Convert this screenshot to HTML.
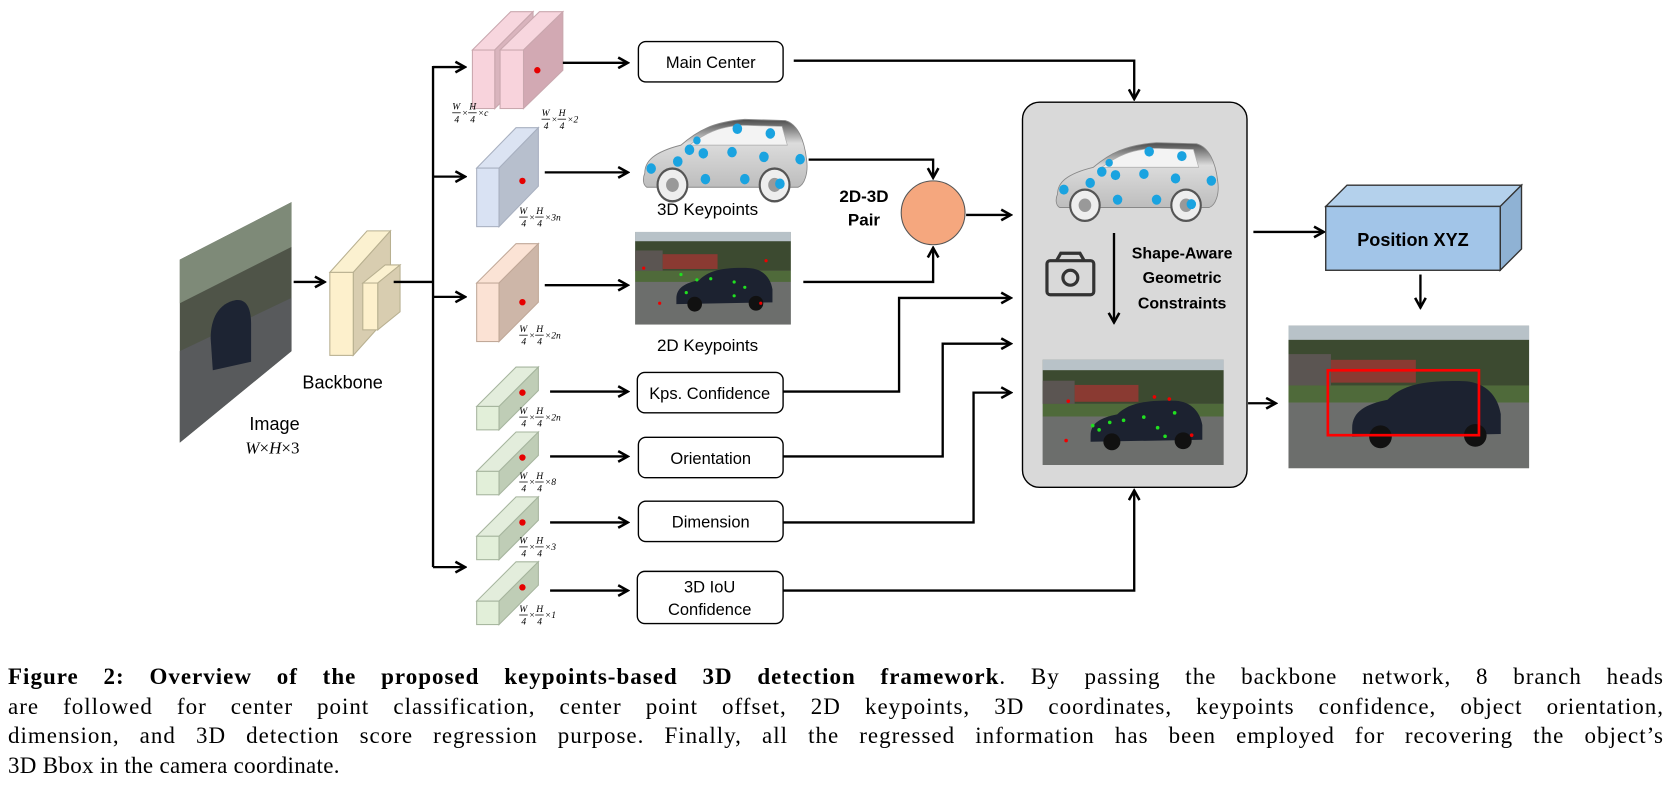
<!DOCTYPE html>
<html><head><meta charset="utf-8"><style>
html,body{margin:0;padding:0;background:#fff}
body{position:relative;width:1671px;height:806px;overflow:hidden}
svg{display:block;position:absolute;left:0;top:0}
.t{font-family:"Liberation Sans","DejaVu Sans",sans-serif}
.f{font-family:"Liberation Serif",serif;font-style:italic;font-size:9px}
.cap{position:absolute;left:8px;top:662px;width:1656px;font-family:"Liberation Serif",serif;font-size:23px;line-height:29.5px;color:#000}
.cap div{text-align:justify;text-align-last:justify;white-space:nowrap;letter-spacing:1px}
.cap div.l{text-align-last:left;letter-spacing:0.3px}
</style></head><body>
<svg width="1671" height="806" viewBox="0 0 1570.5 757.5" xmlns="http://www.w3.org/2000/svg">
<defs>
<marker id="ah" markerWidth="12" markerHeight="12" refX="10" refY="6" orient="auto" markerUnits="userSpaceOnUse">
<path d="M1,1 L10,6 L1,11" fill="none" stroke="#000" stroke-width="2.4"/>
</marker>
<linearGradient id="carg" x1="0" y1="0" x2="0" y2="1">
<stop offset="0" stop-color="#4a4a4a"/><stop offset="0.35" stop-color="#dcdcdc"/><stop offset="1" stop-color="#bdbdbd"/>
</linearGradient>
<g id="car">
<path d="M6,48 C6,38 14,30 40,24 C55,12 70,4 100,2 L138,3 C150,6 156,20 158,36 C160,48 156,58 150,60 L8,60 C4,58 4,52 6,48 Z" fill="url(#carg)" stroke="#888" stroke-width="0.8"/>
<path d="M48,24 C62,14 76,8 98,7 L135,8 L140,24 Z" fill="#f3f3f3" stroke="#aaa" stroke-width="0.6"/>
<circle cx="32" cy="58" r="14" fill="#eee" stroke="#555" stroke-width="2"/><circle cx="32" cy="58" r="6" fill="#999"/>
<circle cx="128" cy="58" r="14" fill="#eee" stroke="#555" stroke-width="2"/><circle cx="128" cy="58" r="6" fill="#999"/>
<g fill="#1aa3e0"><circle cx="12" cy="44" r="4.5"/><circle cx="37" cy="38" r="4.5"/><circle cx="48" cy="28" r="4.5"/><circle cx="61" cy="31" r="4.5"/><circle cx="55" cy="20" r="3.5"/><circle cx="93" cy="10" r="4.5"/><circle cx="88" cy="30" r="4.5"/><circle cx="124" cy="14" r="4.5"/><circle cx="118" cy="34" r="4.5"/><circle cx="152" cy="36" r="4.5"/><circle cx="63" cy="53" r="4.5"/><circle cx="100" cy="53" r="4.5"/><circle cx="133" cy="57" r="4.5"/></g>
</g>
<g id="photo">
<rect x="0" y="0" width="170" height="100" fill="#7b7f78"/>
<rect x="0" y="0" width="170" height="25" fill="#b8c2c8"/>
<rect x="0" y="10" width="170" height="32" fill="#3c4a30"/>
<rect x="0" y="20" width="30" height="22" fill="#5b5552"/>
<rect x="30" y="24" width="60" height="16" fill="#8a3a32"/>
<rect x="0" y="42" width="170" height="12" fill="#4f6a3a"/>
<rect x="0" y="54" width="170" height="46" fill="#6c6e6c"/>
<path d="M45,72 C45,60 55,55 70,52 C80,42 95,38 125,39 C140,40 148,50 150,62 L150,76 L45,78 Z" fill="#1c2230"/>
<circle cx="65" cy="78" r="8" fill="#111"/><circle cx="132" cy="77" r="8" fill="#111"/>
</g>
</defs>

<polygon points="169,244 274,190 274,330 169,416" fill="#4f5448"/>
<polygon points="169,244 274,190 274,232 169,285" fill="#7e8a78"/>
<polygon points="169,330 274,280 274,330 169,416" fill="#585a5c"/>
<path d="M198,318 C198,300 205,285 222,282 C232,281 236,290 236,305 L236,340 L200,348 Z" fill="#1d2433"/>
<text class="t" x="258" y="404" font-size="17" text-anchor="middle">Image</text>
<text x="256" y="426" font-size="16" text-anchor="middle" font-family="Liberation Serif,serif" font-style="italic">W<tspan font-style="normal">×</tspan>H<tspan font-style="normal">×3</tspan></text>
<line x1="276" y1="265" x2="305" y2="265" stroke="#000" stroke-width="2.2" marker-end="url(#ah)"/>

<g stroke="#b8b090" stroke-width="1">
<polygon points="310,256 332,256 367,217 345,217" fill="#fbf1d0"/>
<polygon points="332,256 367,217 367,295 332,334" fill="#d8cdb0"/>
<rect x="310" y="256" width="22" height="78" fill="#fdf0cc"/>
<polygon points="341,266 355,266 376,249 362,249" fill="#fbf1d0"/>
<polygon points="355,266 376,249 376,293 355,310" fill="#d8cdb0"/>
<rect x="341" y="266" width="14" height="44" fill="#fdf0cc"/>
</g>
<text class="t" x="322" y="365" font-size="17" text-anchor="middle">Backbone</text>

<g stroke="#000" stroke-width="2.2" fill="none">
<polyline points="370,265 407,265"/>
<line x1="407" y1="62" x2="407" y2="533"/>
<line x1="407" y1="63" x2="437" y2="63" marker-end="url(#ah)"/>
<line x1="407" y1="166" x2="437" y2="166" marker-end="url(#ah)"/>
<line x1="407" y1="279" x2="437" y2="279" marker-end="url(#ah)"/>
<line x1="407" y1="533" x2="437" y2="533" marker-end="url(#ah)"/>
</g>

<g stroke="#c9a7ae" stroke-width="1">
<polygon points="444,47 465,47 501,11 480,11" fill="#f7d6de"/>
<polygon points="465,47 501,11 501,66 465,102" fill="#d9b4bd"/>
<rect x="444" y="47" width="21" height="55" fill="#f8d3dc"/>
<polygon points="470,47 492,47 529,11 507,11" fill="#f7d6de"/>
<polygon points="492,47 529,11 529,66 492,102" fill="#d2a9b3"/>
<rect x="470" y="47" width="22" height="55" fill="#f8d3dc"/>
</g>
<circle cx="505" cy="66" r="3" fill="#e60000"/>
<g stroke="#a8b0c0" stroke-width="1">
<polygon points="448,158 469,158 506,120 485,120" fill="#dbe3f2"/>
<polygon points="469,158 506,120 506,175 469,213" fill="#b7bfcd"/>
<rect x="448" y="158" width="21" height="55" fill="#d9e2f3"/>
</g>
<circle cx="491" cy="170" r="3" fill="#e60000"/>
<g stroke="#c0a898" stroke-width="1">
<polygon points="448,266 469,266 506,229 485,229" fill="#fbe3d5"/>
<polygon points="469,266 506,229 506,284 469,321" fill="#cdb6a8"/>
<rect x="448" y="266" width="21" height="55" fill="#fbe2d4"/>
</g>
<circle cx="491" cy="284" r="3" fill="#e60000"/>
<g stroke="#a6b59e" stroke-width="1">
<polygon points="448,382 469,382 506,345 485,345" fill="#e3eddc"/><polygon points="469,382 506,345 506,367 469,404" fill="#bfcdb6"/><rect x="448" y="382" width="21" height="22" fill="#e2efd9"/>
<polygon points="448,443 469,443 506,406 485,406" fill="#e3eddc"/><polygon points="469,443 506,406 506,428 469,465" fill="#bfcdb6"/><rect x="448" y="443" width="21" height="22" fill="#e2efd9"/>
<polygon points="448,504 469,504 506,467 485,467" fill="#e3eddc"/><polygon points="469,504 506,467 506,489 469,526" fill="#bfcdb6"/><rect x="448" y="504" width="21" height="22" fill="#e2efd9"/>
<polygon points="448,565 469,565 506,528 485,528" fill="#e3eddc"/><polygon points="469,565 506,528 506,550 469,587" fill="#bfcdb6"/><rect x="448" y="565" width="21" height="22" fill="#e2efd9"/>
</g>
<g fill="#e60000"><circle cx="491" cy="369" r="3"/><circle cx="491" cy="430" r="3"/><circle cx="491" cy="491" r="3"/><circle cx="491" cy="552" r="3"/></g>

<g class="f" stroke-width="0.7">
<g transform="translate(425,103)"><text x="0" y="0">W</text><line x1="0" y1="3" x2="8" y2="3" stroke="#000"/><text x="2" y="12">4</text><text x="9" y="6">×</text><text x="16" y="0">H</text><line x1="15" y1="3" x2="23" y2="3" stroke="#000"/><text x="17" y="12">4</text><text x="24" y="6">×c</text></g>
<g transform="translate(509,109)"><text x="0" y="0">W</text><line x1="0" y1="3" x2="8" y2="3" stroke="#000"/><text x="2" y="12">4</text><text x="9" y="6">×</text><text x="16" y="0">H</text><line x1="15" y1="3" x2="23" y2="3" stroke="#000"/><text x="17" y="12">4</text><text x="24" y="6">×2</text></g>
<g transform="translate(488,201)"><text x="0" y="0">W</text><line x1="0" y1="3" x2="8" y2="3" stroke="#000"/><text x="2" y="12">4</text><text x="9" y="6">×</text><text x="16" y="0">H</text><line x1="15" y1="3" x2="23" y2="3" stroke="#000"/><text x="17" y="12">4</text><text x="24" y="6">×3n</text></g>
<g transform="translate(488,312)"><text x="0" y="0">W</text><line x1="0" y1="3" x2="8" y2="3" stroke="#000"/><text x="2" y="12">4</text><text x="9" y="6">×</text><text x="16" y="0">H</text><line x1="15" y1="3" x2="23" y2="3" stroke="#000"/><text x="17" y="12">4</text><text x="24" y="6">×2n</text></g>
<g transform="translate(488,389)"><text x="0" y="0">W</text><line x1="0" y1="3" x2="8" y2="3" stroke="#000"/><text x="2" y="12">4</text><text x="9" y="6">×</text><text x="16" y="0">H</text><line x1="15" y1="3" x2="23" y2="3" stroke="#000"/><text x="17" y="12">4</text><text x="24" y="6">×2n</text></g>
<g transform="translate(488,450)"><text x="0" y="0">W</text><line x1="0" y1="3" x2="8" y2="3" stroke="#000"/><text x="2" y="12">4</text><text x="9" y="6">×</text><text x="16" y="0">H</text><line x1="15" y1="3" x2="23" y2="3" stroke="#000"/><text x="17" y="12">4</text><text x="24" y="6">×8</text></g>
<g transform="translate(488,511)"><text x="0" y="0">W</text><line x1="0" y1="3" x2="8" y2="3" stroke="#000"/><text x="2" y="12">4</text><text x="9" y="6">×</text><text x="16" y="0">H</text><line x1="15" y1="3" x2="23" y2="3" stroke="#000"/><text x="17" y="12">4</text><text x="24" y="6">×3</text></g>
<g transform="translate(488,575)"><text x="0" y="0">W</text><line x1="0" y1="3" x2="8" y2="3" stroke="#000"/><text x="2" y="12">4</text><text x="9" y="6">×</text><text x="16" y="0">H</text><line x1="15" y1="3" x2="23" y2="3" stroke="#000"/><text x="17" y="12">4</text><text x="24" y="6">×1</text></g>
</g>

<g stroke="#000" stroke-width="2.2" fill="none">
<line x1="529" y1="59" x2="590" y2="59" marker-end="url(#ah)"/>
<line x1="512" y1="162" x2="590" y2="162" marker-end="url(#ah)"/>
<line x1="512" y1="268" x2="590" y2="268" marker-end="url(#ah)"/>
<line x1="517" y1="368" x2="590" y2="368" marker-end="url(#ah)"/>
<line x1="517" y1="429" x2="590" y2="429" marker-end="url(#ah)"/>
<line x1="517" y1="491" x2="590" y2="491" marker-end="url(#ah)"/>
<line x1="517" y1="555" x2="590" y2="555" marker-end="url(#ah)"/>
</g>

<g fill="#fff" stroke="#000" stroke-width="1.3">
<rect x="600" y="39" width="136" height="38" rx="7"/>
<rect x="599" y="350" width="137" height="38" rx="7"/>
<rect x="600" y="411" width="136" height="38" rx="7"/>
<rect x="600" y="471" width="136" height="38" rx="7"/>
<rect x="599" y="537" width="137" height="49" rx="7"/>
</g>
<g class="t" font-size="15.5" text-anchor="middle">
<text x="668" y="64">Main Center</text>
<text x="667" y="375">Kps. Confidence</text>
<text x="668" y="436">Orientation</text>
<text x="668" y="496">Dimension</text>
<text x="667" y="557">3D IoU</text>
<text x="667" y="578">Confidence</text>
</g>

<use href="#car" transform="translate(600,110) scale(1,1.1)"/>
<text class="t" x="665" y="202" font-size="16" text-anchor="middle">3D Keypoints</text>
<use href="#photo" transform="translate(597,218) scale(0.86,0.87)"/>
<g fill="#20e020"><circle cx="640" cy="258" r="1.5"/><circle cx="655" cy="263" r="1.5"/><circle cx="668" cy="262" r="1.5"/><circle cx="690" cy="265" r="1.5"/><circle cx="645" cy="275" r="1.5"/><circle cx="690" cy="278" r="1.5"/><circle cx="700" cy="270" r="1.5"/></g>
<g fill="#e00"><circle cx="605" cy="252" r="1.5"/><circle cx="720" cy="245" r="1.5"/><circle cx="620" cy="285" r="1.5"/><circle cx="715" cy="285" r="1.5"/></g>
<text class="t" x="665" y="330" font-size="16" text-anchor="middle">2D Keypoints</text>

<g stroke="#000" stroke-width="2.2" fill="none">
<polyline points="746,57 1066,57 1066,93" marker-end="url(#ah)"/>
<polyline points="760,150 877,150 877,167" marker-end="url(#ah)"/>
<polyline points="755,265 877,265 877,233" marker-end="url(#ah)"/>
<line x1="908" y1="202" x2="950" y2="202" marker-end="url(#ah)"/>
<polyline points="736,368 845,368 845,280 950,280" marker-end="url(#ah)"/>
<polyline points="736,429 886,429 886,323 950,323" marker-end="url(#ah)"/>
<polyline points="736,491 915,491 915,369 950,369" marker-end="url(#ah)"/>
<polyline points="736,555 1066,555 1066,461" marker-end="url(#ah)"/>
</g>
<circle cx="877" cy="200" r="30" fill="#f5a77e" stroke="#555" stroke-width="1"/>
<text class="t" x="812" y="190" font-size="16" font-weight="bold" text-anchor="middle">2D-3D</text>
<text class="t" x="812" y="212" font-size="16" font-weight="bold" text-anchor="middle">Pair</text>

<rect x="961" y="96" width="211" height="362" rx="16" fill="#d9d9d9" stroke="#000" stroke-width="1.3"/>
<use href="#car" transform="translate(988,132) scale(0.99,1.05)"/>
<rect x="984" y="245" width="44" height="32" rx="3" fill="none" stroke="#333" stroke-width="3"/>
<path d="M993,245 L997,238 L1015,238 L1019,245" fill="none" stroke="#333" stroke-width="3"/>
<circle cx="1006" cy="261" r="7" fill="none" stroke="#333" stroke-width="3"/>
<line x1="1047" y1="219" x2="1047" y2="303" stroke="#000" stroke-width="2.2" marker-end="url(#ah)"/>
<g class="t" font-size="15" font-weight="bold" text-anchor="middle">
<text x="1111" y="243">Shape-Aware</text>
<text x="1111" y="266">Geometric</text>
<text x="1111" y="290">Constraints</text>
</g>
<use href="#photo" transform="translate(980,338) scale(1.0,0.99)"/>
<g fill="#20e020"><circle cx="1027" cy="400" r="1.7"/><circle cx="1043" cy="397" r="1.7"/><circle cx="1056" cy="395" r="1.7"/><circle cx="1075" cy="392" r="1.7"/><circle cx="1033" cy="404" r="1.7"/><circle cx="1095" cy="410" r="1.7"/><circle cx="1088" cy="402" r="1.7"/><circle cx="1104" cy="388" r="1.7"/></g>
<g fill="#e00"><circle cx="1004" cy="377" r="1.7"/><circle cx="1085" cy="373" r="1.7"/><circle cx="1099" cy="375" r="1.7"/><circle cx="1002" cy="414" r="1.7"/><circle cx="1120" cy="409" r="1.7"/></g>

<line x1="1178" y1="218" x2="1244" y2="218" stroke="#000" stroke-width="2.2" marker-end="url(#ah)"/>
<g stroke="#333" stroke-width="1.3">
<polygon points="1246,194 1266,174 1430,174 1410,194" fill="#b4d1ec"/>
<polygon points="1410,194 1430,174 1430,234 1410,254" fill="#8fb2d4"/>
<rect x="1246" y="194" width="164" height="60" fill="#a2c5e8"/>
</g>
<text class="t" x="1328" y="231" font-size="17" font-weight="bold" text-anchor="middle">Position XYZ</text>
<line x1="1335" y1="258" x2="1335" y2="289" stroke="#000" stroke-width="2.2" marker-end="url(#ah)"/>
<line x1="1173" y1="379" x2="1199" y2="379" stroke="#000" stroke-width="2.2" marker-end="url(#ah)"/>
<use href="#photo" transform="translate(1211,306) scale(1.33,1.34)"/>
<rect x="1248" y="348" width="142" height="61" fill="none" stroke="#f00" stroke-width="2.5"/>
</svg>
<div class="cap">
<div><b>Figure 2: Overview of the proposed keypoints-based 3D detection framework</b>. By passing the backbone network, 8 branch heads</div>
<div>are followed for center point classification, center point offset, 2D keypoints, 3D coordinates, keypoints confidence, object orientation,</div>
<div>dimension, and 3D detection score regression purpose. Finally, all the regressed information has been employed for recovering the object’s</div>
<div class="l">3D Bbox in the camera coordinate.</div>
</div>
</body></html>
